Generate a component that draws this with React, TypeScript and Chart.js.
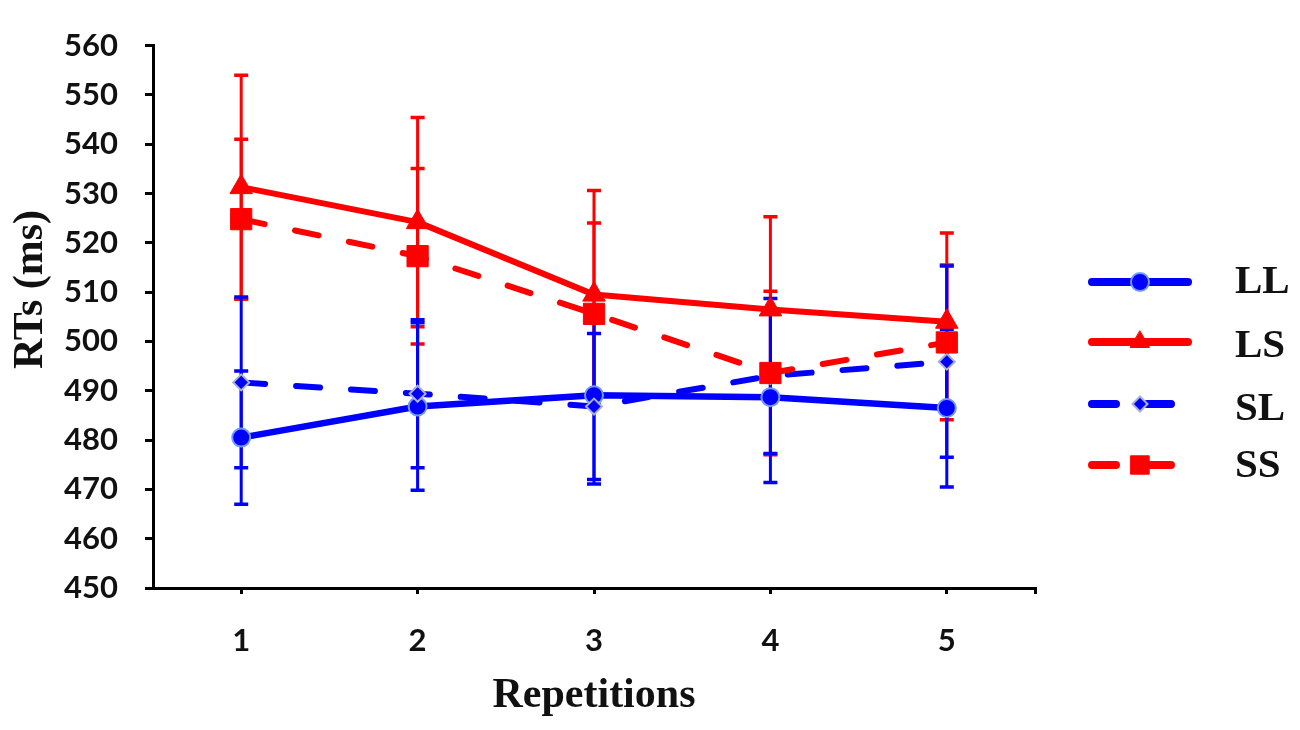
import React, { useEffect, useRef } from 'react';
import { Chart, registerables } from 'chart.js';

Chart.register(...registerables);

// ---- data ----
const repetitions = [1, 2, 3, 4, 5];
const xTickValues = [1, 2, 3, 4, 5, 5.5];

const llMeans = [480.5, 486.8, 489.1, 488.7, 486.5];
const llErrors = [13.5, 17.0, 18.0, 17.3, 16.0];

const lsMeans = [531.3, 524.2, 509.5, 506.5, 504.0];
const lsErrors = [22.7, 21.2, 21.1, 18.8, 18.0];

const slMeans = [491.7, 489.4, 486.8, 493.0, 495.9];
const slErrors = [17.3, 15.0, 14.8, 15.7, 19.4];

const ssMeans = [524.8, 517.3, 505.6, 493.6, 499.8];
const ssErrors = [16.2, 17.8, 18.4, 16.6, 15.7];

const seriesLabels = ['LL', 'LS', 'SL', 'SS'];
const yAxisTitle = 'RTs (ms)';
const xAxisTitle = 'Repetitions';
const yMin = 450;
const yMax = 560;
const yStep = 10;

const BLUE = '#0000ff';
const RED = '#ff0000';
const DASH = [24, 31];

const toPoints = (vals: number[]) => vals.map((v, i) => ({ x: repetitions[i], y: v }));

const errorBarPlugin = {
  id: 'errorBars',
  beforeDatasetsDraw(chart: any) {
    const { ctx } = chart;
    const xs = chart.scales.x;
    const ys = chart.scales.y;
    const order = [1, 3, 0, 2]; // red first, blue on top
    ctx.save();
    for (const i of order) {
      const ds = chart.data.datasets[i];
      ctx.strokeStyle = ds.borderColor;
      ds.data.forEach((p: any, j: number) => {
        const e = ds.errors[j];
        const x = xs.getPixelForValue(p.x);
        const yt = ys.getPixelForValue(p.y + e);
        const yb = ys.getPixelForValue(p.y - e);
        ctx.lineWidth = 3;
        ctx.beginPath();
        ctx.moveTo(x, yt);
        ctx.lineTo(x, yb);
        ctx.stroke();
        ctx.lineWidth = 3.5;
        ctx.beginPath();
        ctx.moveTo(x - 7, yt);
        ctx.lineTo(x + 7, yt);
        ctx.moveTo(x - 7, yb);
        ctx.lineTo(x + 7, yb);
        ctx.stroke();
      });
    }
    ctx.restore();
  },
};

function drawMarker(ctx: CanvasRenderingContext2D, style: string, x: number, y: number, r: number, fill: string, stroke: string, bw: number) {
  ctx.beginPath();
  if (style === 'circle') {
    ctx.arc(x, y, r, 0, Math.PI * 2);
  } else if (style === 'triangle') {
    ctx.moveTo(x, y - r);
    ctx.lineTo(x + r * 0.866, y + r * 0.5);
    ctx.lineTo(x - r * 0.866, y + r * 0.5);
    ctx.closePath();
  } else if (style === 'rectRot') {
    ctx.moveTo(x, y - r);
    ctx.lineTo(x + r, y);
    ctx.lineTo(x, y + r);
    ctx.lineTo(x - r, y);
    ctx.closePath();
  } else {
    const h = r * Math.SQRT1_2;
    ctx.rect(x - h, y - h, 2 * h, 2 * h);
  }
  ctx.fillStyle = fill;
  ctx.fill();
  if (bw > 0) {
    ctx.lineWidth = bw;
    ctx.strokeStyle = stroke;
    ctx.stroke();
  }
}

const legendPlugin = {
  id: 'sideLegend',
  afterDraw(chart: any) {
    const { ctx } = chart;
    const lineYs = [282, 342, 404, 465];
    const baseYs = [293, 357, 420, 477];
    const legendRadius = [9, 11, 7.5, 13];
    ctx.save();
    chart.data.datasets.forEach((ds: any, i: number) => {
      const y = lineYs[i];
      ctx.strokeStyle = ds.borderColor;
      ctx.lineWidth = 8;
      ctx.lineCap = 'round';
      ctx.setLineDash(ds.borderDash || []);
      ctx.beginPath();
      ctx.moveTo(1092, y);
      ctx.lineTo(ds.borderDash ? 1173 : 1188, y);
      ctx.stroke();
      ctx.setLineDash([]);
      drawMarker(ctx, ds.pointStyle, 1140, y, legendRadius[i], ds.pointBackgroundColor, ds.pointBorderColor, ds.pointBorderWidth);
      ctx.fillStyle = '#111';
      ctx.font = 'bold 41px "Liberation Serif", "Times New Roman", serif';
      ctx.textBaseline = 'alphabetic';
      ctx.textAlign = 'left';
      ctx.fillText(ds.label, 1235, baseYs[i]);
    });
    // y axis title
    ctx.translate(42, 289.5);
    ctx.rotate(-Math.PI / 2);
    ctx.font = 'bold 42px "Liberation Serif", "Times New Roman", serif';
    ctx.textAlign = 'center';
    ctx.textBaseline = 'alphabetic';
    ctx.fillStyle = '#111';
    ctx.fillText(yAxisTitle, 0, 0);
    ctx.restore();
  },
};

export default function App() {
  const ref = useRef<HTMLCanvasElement>(null);
  useEffect(() => {
    document.body.style.margin = '0';
    const canvas = ref.current!;
    const tickFont = { family: 'Lato, "Liberation Sans", Arial, sans-serif', weight: 'bold' as const, size: 31 };
    const chart = new Chart(canvas, {
      type: 'line',
      data: {
        datasets: [
          {
            label: seriesLabels[0],
            data: toPoints(llMeans),
            errors: llErrors,
            borderColor: BLUE,
            borderWidth: 6.5,
            pointStyle: 'circle',
            pointRadius: 9,
            pointBackgroundColor: BLUE,
            pointBorderColor: '#6f9cff',
            pointBorderWidth: 2,
            order: 3,
          },
          {
            label: seriesLabels[1],
            data: toPoints(lsMeans),
            errors: lsErrors,
            borderColor: RED,
            borderWidth: 6,
            pointStyle: 'triangle',
            pointRadius: 13,
            pointBackgroundColor: RED,
            pointBorderColor: RED,
            pointBorderWidth: 1,
            order: 2,
          },
          {
            label: seriesLabels[2],
            data: toPoints(slMeans),
            errors: slErrors,
            borderColor: BLUE,
            borderWidth: 6,
            borderDash: DASH,
            pointStyle: 'rectRot',
            pointRadius: 8,
            pointBackgroundColor: BLUE,
            pointBorderColor: '#aab0d8',
            pointBorderWidth: 2,
            order: 1,
          },
          {
            label: seriesLabels[3],
            data: toPoints(ssMeans),
            errors: ssErrors,
            borderColor: RED,
            borderWidth: 6,
            borderDash: DASH,
            pointStyle: 'rect',
            pointRadius: 15,
            pointBackgroundColor: RED,
            pointBorderColor: RED,
            pointBorderWidth: 1,
            order: 0,
          },
        ] as any,
      },
      options: {
        animation: false,
        responsive: false,
        devicePixelRatio: 1,
        layout: { padding: { top: 24, right: 265, bottom: 0, left: 0 } },
        elements: {
          line: { tension: 0, borderCapStyle: 'round', borderJoinStyle: 'round' },
        },
        plugins: {
          legend: { display: false },
          tooltip: { enabled: false },
        },
        scales: {
          x: {
            type: 'linear',
            min: 0.5,
            max: 5.5,
            afterBuildTicks: (scale: any) => {
              scale.ticks = xTickValues.map((v) => ({ value: v }));
            },
            afterFit: (scale: any) => {
              scale.height = 142;
            },
            ticks: {
              font: tickFont,
              color: '#111',
              padding: 28,
              autoSkip: false,
              maxRotation: 0,
              callback: (v: any) => (repetitions.includes(Number(v)) ? String(v) : ''),
            },
            grid: {
              drawOnChartArea: false,
              drawTicks: true,
              tickLength: 6,
              lineWidth: 3,
              color: '#000',
            },
            border: { display: true, color: '#000', width: 3 },
            title: {
              display: true,
              text: xAxisTitle,
              color: '#111',
              font: { family: '"Liberation Serif", "Times New Roman", serif', weight: 'bold', size: 42 },
              padding: { top: 0, bottom: 9 },
            },
          },
          y: {
            min: yMin,
            max: yMax,
            afterFit: (scale: any) => {
              scale.width = 153;
            },
            ticks: {
              stepSize: yStep,
              font: tickFont,
              color: '#111',
              padding: 27,
            },
            grid: {
              drawOnChartArea: false,
              drawTicks: true,
              tickLength: 8,
              lineWidth: 3,
              color: '#000',
            },
            border: { display: true, color: '#000', width: 3 },
          },
        },
      } as any,
      plugins: [errorBarPlugin, legendPlugin],
    });
    return () => chart.destroy();
  }, []);
  return (
    <div style={{ position: 'fixed', left: 0, top: 0, width: 1300, height: 730, background: '#fff' }}>
      <canvas ref={ref} width={1300} height={730} />
    </div>
  );
}
